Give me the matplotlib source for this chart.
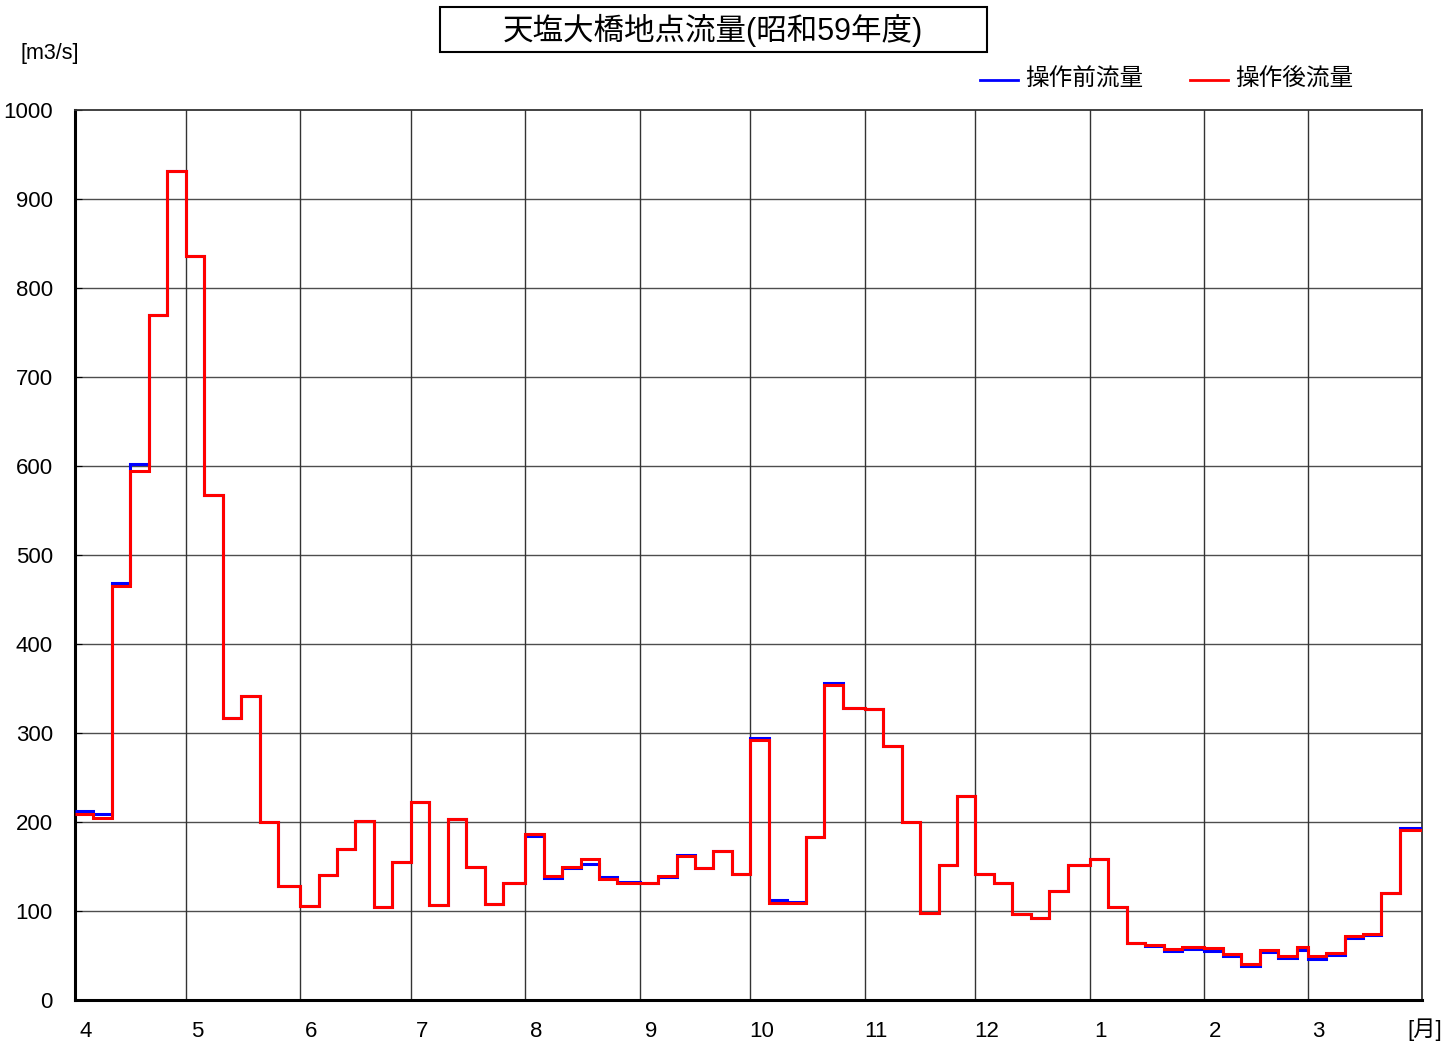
import numpy as np
import matplotlib.pyplot as plt
from matplotlib.lines import Line2D
from matplotlib.patches import Rectangle

plt.rcParams['font.family'] = ['Liberation Sans', 'Noto Sans CJK JP', 'DejaVu Sans']

# 月 (昭和59年度: 1984/4 - 1985/3) と日数
months = ['4', '5', '6', '7', '8', '9', '10', '11', '12', '1', '2', '3']
month_days = [30, 31, 30, 31, 31, 30, 31, 30, 31, 31, 28, 31]

# 半旬流量 [m3/s] (各月6区間)
before = [212, 209, 468, 602, 770, 931,
          836, 567, 317, 342, 200, 128,
          106, 140, 170, 201, 105, 155,
          223, 107, 203, 150, 108, 131,
          184, 137, 148, 153, 138, 133,
          131, 138, 163, 148, 167, 142,
          294, 112, 110, 183, 356, 328,
          327, 285, 200, 98, 152, 229,
          142, 132, 97, 92, 122, 152,
          158, 105, 64, 61, 55, 57,
          55, 49, 38, 54, 47, 56,
          46, 51, 70, 73, 120, 193]
after = [209, 205, 465, 594, 770, 931,
         836, 567, 317, 342, 200, 128,
         106, 140, 170, 201, 105, 155,
         223, 107, 203, 150, 108, 132,
         186, 139, 150, 158, 136, 132,
         131, 139, 162, 148, 167, 142,
         292, 109, 109, 183, 354, 328,
         327, 285, 200, 98, 152, 229,
         142, 132, 97, 92, 122, 152,
         158, 105, 64, 62, 57, 60,
         58, 52, 41, 56, 50, 59,
         49, 53, 72, 74, 120, 191]

# 区間の境界 (1,6,11,16,21,26日)
month_start = np.concatenate([[0], np.cumsum(month_days)])
edges = []
for s in month_start[:-1]:
    edges += [s, s + 5, s + 10, s + 15, s + 20, s + 25]
edges.append(month_start[-1])

fig = plt.figure(figsize=(14.48, 10.44), dpi=100)
ax = fig.add_axes([75 / 1448, 1 - 1000 / 1044, (1422 - 75) / 1448, 890 / 1044])

ax.stairs(before, edges, baseline=None, color='#0000ff', linewidth=2.2, zorder=3)
ax.stairs(after, edges, baseline=None, color='#ff0000', linewidth=2.2, zorder=4)

ax.set_xlim(0, month_start[-1])
ax.set_ylim(0, 1000)
ax.set_yticks(np.arange(0, 1001, 100))
ax.set_xticks(month_start[:-1] + 3)
ax.set_xticklabels(months)
ax.tick_params(axis='x', length=0, pad=15, labelsize=16)
ax.tick_params(axis='y', direction='in', length=5, pad=16, labelsize=16)

for y in range(100, 1000, 100):
    ax.axhline(y, color='#4d4d4d', linewidth=1.0, zorder=1)
for x in month_start[1:-1]:
    ax.axvline(x, color='#333333', linewidth=1.0, zorder=1)

for side in ['left', 'bottom']:
    ax.spines[side].set_linewidth(2.2)
for side in ['top', 'right']:
    ax.spines[side].set_linewidth(1.3)
    ax.spines[side].set_color('#333333')

# タイトル
fig.patches.append(Rectangle((440 / 1448, 1 - 52 / 1044), 547 / 1448, 45 / 1044,
                             transform=fig.transFigure, fill=False,
                             edgecolor='black', linewidth=1.5))
fig.text(713 / 1448, 1 - 30 / 1044, '天塩大橋地点流量(昭和59年度)',
         ha='center', va='center', fontsize=22)

fig.text(50 / 1448, 1 - 53 / 1044, '[m3/s]', ha='center', va='center', fontsize=15.5)
fig.text(1425 / 1448, 1 - 1030 / 1044, '[月]', ha='center', va='center', fontsize=16)

# 凡例
fig.lines.append(Line2D([980 / 1448, 1018 / 1448], [1 - 80 / 1044] * 2,
                        transform=fig.transFigure, color='#0000ff', linewidth=2))
fig.text(1025 / 1448, 1 - 80 / 1044, '操作前流量', ha='left', va='center', fontsize=17)
fig.lines.append(Line2D([1190 / 1448, 1228 / 1448], [1 - 80 / 1044] * 2,
                        transform=fig.transFigure, color='#ff0000', linewidth=2))
fig.text(1235 / 1448, 1 - 80 / 1044, '操作後流量', ha='left', va='center', fontsize=17)

plt.savefig('out.png', dpi=100)
